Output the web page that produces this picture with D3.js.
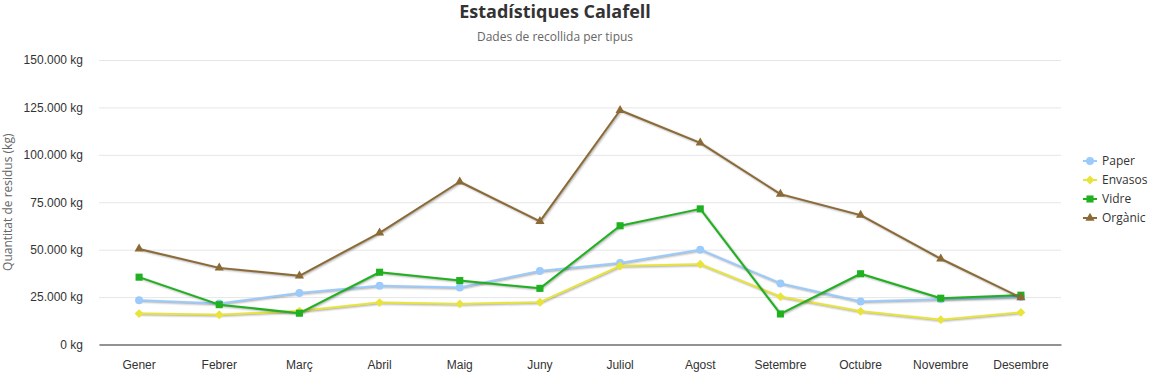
<!DOCTYPE html>
<html>
<head>
<meta charset="utf-8">
<script src="https://cdn.jsdelivr.net/npm/d3@7"></script>
<style>
    body { margin: 0; background: #fff; }
    svg { display: block; font-family: "Segoe UI", "Open Sans", sans-serif; }
</style>
</head>
<body>
<div id="chart"></div>
<script>
const months = ["Gener", "Febrer", "Març", "Abril", "Maig", "Juny", "Juliol", "Agost", "Setembre", "Octubre", "Novembre", "Desembre"];
const paper = [23300, 21600, 27200, 31000, 30100, 38700, 43000, 50000, 32200, 22700, 23800, 25100];
const envasos = [16300, 15700, 17600, 22100, 21400, 22300, 41400, 42300, 25200, 17500, 13100, 16900];
const vidre = [35500, 21000, 16500, 38100, 33700, 29600, 62600, 71500, 16100, 37300, 24400, 26000];
const organic = [50400, 40400, 36200, 58900, 85800, 64900, 123500, 106300, 79300, 68200, 45200, 24700];
const yTicks = [0, 25000, 50000, 75000, 100000, 125000, 150000];

const series = [
    { name: "Paper", values: paper, color: "#9ccbfb", symbol: d3.symbolCircle, size: 50 },
    { name: "Envasos", values: envasos, color: "#e8e43c", symbol: d3.symbolDiamond2, size: 50 },
    { name: "Vidre", values: vidre, color: "#1fb11f", symbol: d3.symbolSquare2, size: 64 },
    { name: "Orgànic", values: organic, color: "#8b6a35", symbol: d3.symbolTriangle2, size: 60 },
];

const width = 1155;
const height = 377;
const margin = { top: 60, right: 94, bottom: 32.5, left: 99 };
const titleCenter = 555;

const locale = d3.formatLocale({ decimal: ",", thousands: ".", grouping: [3], currency: ["", ""] });
const fmt = locale.format(",");

const svg = d3.select("#chart")
    .append("svg")
    .attr("width", width)
    .attr("height", height);

const xScale = d3.scaleBand()
    .domain(months)
    .range([margin.left, width - margin.right]);
const yScale = d3.scaleLinear()
    .domain([0, 150000])
    .range([height - margin.bottom, margin.top]);

// Title
svg.append("text")
    .attr("x", titleCenter)
    .attr("y", 18)
    .attr("text-anchor", "middle")
    .attr("font-size", 18)
    .attr("font-weight", "bold")
    .attr("fill", "#333")
    .text("Estadístiques Calafell");

svg.append("text")
    .attr("x", titleCenter)
    .attr("y", 41)
    .attr("text-anchor", "middle")
    .attr("font-size", 12)
    .attr("fill", "#666")
    .text("Dades de recollida per tipus");

// Grid + y axis
const yAxis = svg.append("g")
    .attr("transform", `translate(${margin.left},0)`)
    .call(d3.axisLeft(yScale)
        .tickValues(yTicks)
        .tickSize(-(width - margin.left - margin.right))
        .tickPadding(16)
        .tickFormat((d) => `${fmt(d)} kg`));
yAxis.select(".domain").remove();
yAxis.selectAll(".tick line").attr("stroke", "#e6e6e6");
yAxis.selectAll(".tick text")
    .attr("font-size", 12)
    .attr("fill", "#333")
    .attr("font-family", null);

svg.append("text")
    .attr("transform", `translate(12,${(margin.top + height - margin.bottom) / 2}) rotate(270)`)
    .attr("text-anchor", "middle")
    .attr("font-size", 12)
    .attr("fill", "#666")
    .text("Quantitat de residus (kg)");

// x axis
const xAxis = svg.append("g")
    .attr("transform", `translate(0,${height - margin.bottom})`)
    .call(d3.axisBottom(xScale).tickSize(0).tickPadding(16));
xAxis.select(".domain").attr("stroke", "#333").attr("stroke-width", 1.2);
xAxis.selectAll(".tick text")
    .attr("font-size", 12)
    .attr("fill", "#333")
    .attr("font-family", null);

const cx = (i) => xScale(months[i]) + xScale.bandwidth() / 2;
const line = d3.line()
    .x((d, i) => cx(i))
    .y((d) => yScale(d));

// Series
const plot = svg.append("g");
for (const s of series) {
    const g = plot.append("g");
    // soft shadow under each line
    [[5, 0.05], [3, 0.1], [1, 0.15]].forEach(([w, o]) => {
        g.append("path")
            .attr("d", line(s.values))
            .attr("transform", "translate(1,1)")
            .attr("fill", "none")
            .attr("stroke", "#000")
            .attr("stroke-opacity", o)
            .attr("stroke-width", w)
            .attr("stroke-linejoin", "round");
    });
    g.append("path")
        .attr("d", line(s.values))
        .attr("fill", "none")
        .attr("stroke", s.color)
        .attr("stroke-width", 2)
        .attr("stroke-linejoin", "round");
    g.selectAll(".marker")
        .data(s.values)
        .join("path")
        .attr("class", "marker")
        .attr("transform", (d, i) => `translate(${cx(i)},${yScale(d)})`)
        .attr("d", d3.symbol().type(s.symbol).size(s.size))
        .attr("fill", s.color);
}

// Legend
const legend = svg.append("g")
    .attr("transform", "translate(1083,161)");
const items = legend.selectAll("g")
    .data(series)
    .join("g")
    .attr("transform", (d, i) => `translate(0,${i * 19})`);
items.append("line")
    .attr("x1", 0).attr("x2", 14)
    .attr("stroke", (d) => d.color)
    .attr("stroke-width", 2);
items.append("path")
    .attr("transform", "translate(7,0)")
    .attr("d", (d) => d3.symbol().type(d.symbol).size(d.size)())
    .attr("fill", (d) => d.color);
items.append("text")
    .attr("x", 19)
    .attr("dy", "0.35em")
    .attr("font-size", 12)
    .attr("fill", "#333")
    .text((d) => d.name);
</script>
</body>
</html>
